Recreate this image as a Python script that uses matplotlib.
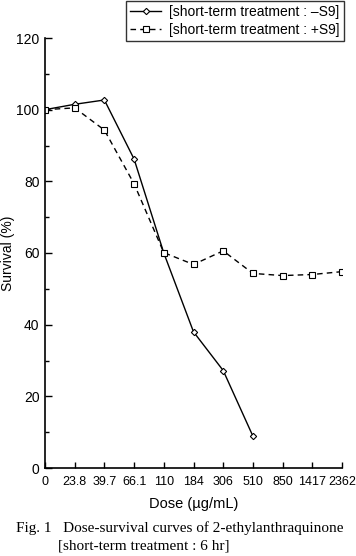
import matplotlib
matplotlib.use("Agg")
import matplotlib.pyplot as plt
from matplotlib.ticker import MultipleLocator

# dose categories (equally spaced on the axis)
dose_labels = ["0", "23.8", "39.7", "66.1", "110", "184", "306", "510", "850", "1417", "2362"]
minus_s9 = [100, 101.5, 102.7, 86.2, 60.0, 38.0, 27.2, 8.9]
plus_s9 = [100, 100.5, 94.3, 79.3, 60.1, 56.8, 60.6, 54.3, 53.7, 54.0, 54.8]

plt.rcParams['font.family'] = ['Liberation Sans', 'DejaVu Sans']

fig = plt.figure(figsize=(3.56, 5.56), dpi=100)
ax = fig.add_axes([45 / 356, 88 / 556, 297 / 356, 430 / 556])

x_minus = list(range(len(minus_s9)))
x_plus = list(range(len(plus_s9)))

l1, = ax.plot(x_minus, minus_s9, color='black', lw=1.0, marker='D', ms=3.2,
              mfc='white', mec='black', mew=0.8,
              label='[short-term treatment : \u2013S9]')
l2, = ax.plot(x_plus, plus_s9, color='black', lw=1.0, ls=(0, (4, 3)), marker='s', ms=4.2,
              mfc='white', mec='black', mew=0.8,
              label='[short-term treatment : +S9]')

ax.set_xlim(0, len(dose_labels) - 1)
ax.set_ylim(0, 120)
ax.set_xticks(range(len(dose_labels)))
ax.set_xticklabels(dose_labels)
ax.yaxis.set_major_locator(MultipleLocator(20))
ax.yaxis.set_minor_locator(MultipleLocator(10))

for s in ['top', 'right']:
    ax.spines[s].set_visible(False)
for s in ['left', 'bottom']:
    ax.spines[s].set_linewidth(1.2)

ax.tick_params(axis='both', which='both', direction='in', width=1.0)
ax.tick_params(axis='x', length=4, pad=6, labelsize=9)
ax.tick_params(axis='y', which='major', length=5, pad=4, labelsize=10)
ax.tick_params(axis='y', which='minor', length=3)

ax.set_ylabel('Survival (%)', fontsize=10)
ax.yaxis.set_label_coords(-30 / 297, 0.5)
ax.set_xlabel('Dose (\u00b5g/mL)', fontsize=10.5, labelpad=6)

fig.legend(handles=[l1, l2], loc='upper right', bbox_to_anchor=(344 / 356, 1 - 0.5 / 556),
           fontsize=10, frameon=True, fancybox=False, edgecolor='black',
           borderpad=0.3, handlelength=2.2, handletextpad=0.6, labelspacing=0.3,
           borderaxespad=0)

fig.text(16 / 356, 1 - 528 / 556, 'Fig. 1   Dose-survival curves of 2-ethylanthraquinone',
         fontsize=11, family=['Liberation Serif', 'DejaVu Serif'], va='center', ha='left')
fig.text(58 / 356, 1 - 546 / 556, '[short-term treatment : 6 hr]',
         fontsize=11, family=['Liberation Serif', 'DejaVu Serif'], va='center', ha='left')

fig.savefig('out.png', dpi=100)
